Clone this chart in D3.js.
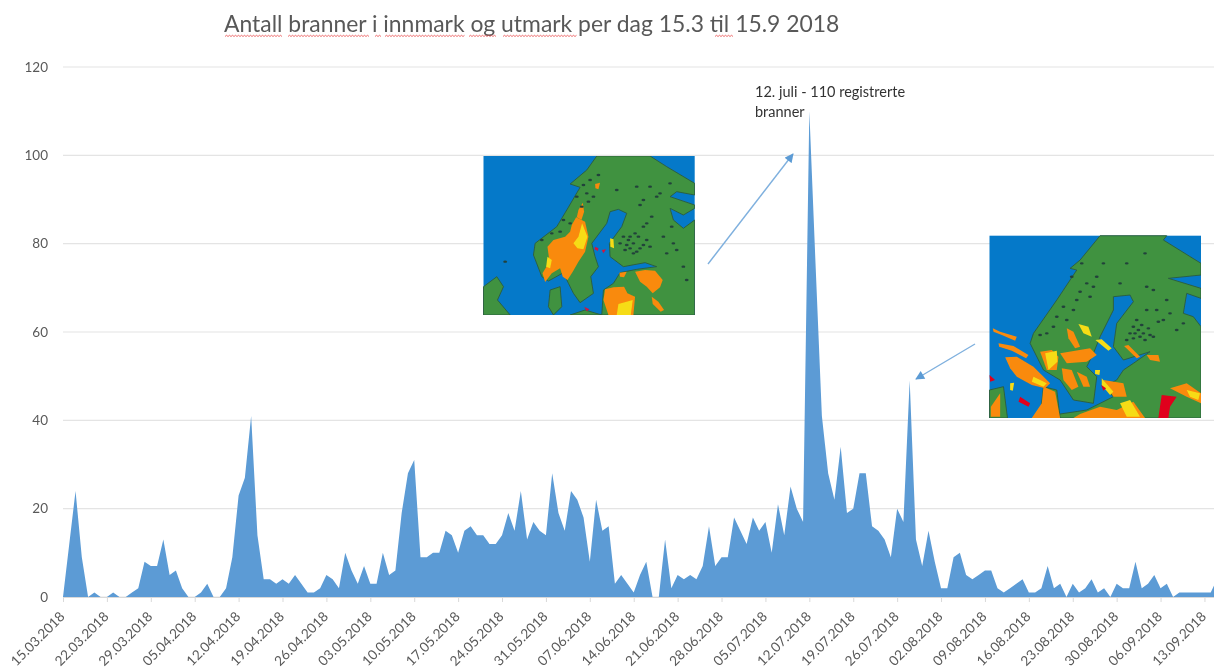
<!DOCTYPE html>
<html>
<head>
<meta charset="utf-8">
<title>Antall branner i innmark og utmark</title>
<script src="https://cdnjs.cloudflare.com/ajax/libs/d3/7.8.5/d3.min.js"></script>
<style>
  html, body { margin: 0; padding: 0; background: #fff; overflow: hidden; }
  svg { display: block; font-family: Lato, "Noto Sans", sans-serif; }
</style>
</head>
<body>
<svg id="chart" width="1214" height="668"></svg>
<script>
// Data
var startDate = '15.03.2018';

// Fires per day, one value for each day from 15.03.2018 on
var fires = [
  0, 12, 24, 9, 0, 1, 0, 0, 1, 0, 0, 1, 2, 8, 7, 7, 13, 5, 6, 2, 0, 0, 1, 3, 0,
  0, 2, 9, 23, 27, 41, 14, 4, 4, 3, 4, 3, 5, 3, 1, 1, 2, 5, 4, 2, 10, 6, 3, 7, 3,
  3, 10, 5, 6, 19, 28, 31, 9, 9, 10, 10, 15, 14, 10, 15, 16, 14, 14, 12, 12, 14, 19, 15, 24, 13,
  17, 15, 14, 28, 19, 15, 24, 22, 18, 8, 22, 15, 16, 3, 5, 3, 1, 5, 8, 0, 0, 13, 2, 5, 4,
  5, 4, 7, 16, 7, 9, 9, 18, 15, 12, 18, 15, 17, 10, 21, 14, 25, 20, 17, 110, 75, 41, 28, 22, 34,
  19, 20, 28, 28, 16, 15, 13, 9, 20, 17, 49, 13, 7, 15, 8, 2, 2, 9, 10, 5, 4, 5, 6, 6, 2,
  1, 2, 3, 4, 1, 1, 2, 7, 2, 3, 0, 3, 1, 2, 4, 1, 2, 0, 3, 2, 2, 8, 2, 3, 5,
  2, 3, 0, 1, 1, 1, 1, 1, 1, 4
];

var dateLabels = [
  '15.03.2018', '22.03.2018', '29.03.2018', '05.04.2018', '12.04.2018', '19.04.2018',
  '26.04.2018', '03.05.2018', '10.05.2018', '17.05.2018', '24.05.2018', '31.05.2018',
  '07.06.2018', '14.06.2018', '21.06.2018', '28.06.2018', '05.07.2018', '12.07.2018',
  '19.07.2018', '26.07.2018', '02.08.2018', '09.08.2018', '16.08.2018', '23.08.2018',
  '30.08.2018', '06.09.2018', '13.09.2018'
];

var yTicks = [0, 20, 40, 60, 80, 100, 120];

var titleText = 'Antall branner i innmark og utmark per dag 15.3 til 15.9 2018';
var noteLines = ['12. juli - 110 registrerte', 'branner'];

// Words the spell checker flagged in the title, [from, to] in px
var squiggles = [[225, 282], [288, 370], [375, 381], [385, 465], [469, 497], [503, 577], [715, 733]];

// Layout
var plotLeft = 63, plotRight = 1217, plotTop = 67, plotBottom = 597;
var parseDate = d3.utcParse('%d.%m.%Y');
var first = parseDate(startDate);

var x = d3.scaleUtc()
  .domain([first, d3.utcDay.offset(first, fires.length - 1)])
  .range([plotLeft, plotRight]);

var y = d3.scaleLinear()
  .domain([0, 120])
  .range([plotBottom, plotTop]);

var svg = d3.select('#chart');

// Slight softening, the reference is an upscaled screenshot
var defs = svg.append('defs');
defs.append('filter').attr('id', 'soft').append('feGaussianBlur').attr('stdDeviation', 0.45);
defs.append('filter').attr('id', 'softer').append('feGaussianBlur').attr('stdDeviation', 0.6);
defs.append('marker')
  .attr('id', 'head')
  .attr('viewBox', '0 0 10 10')
  .attr('refX', 9).attr('refY', 5)
  .attr('markerWidth', 10).attr('markerHeight', 9)
  .attr('markerUnits', 'userSpaceOnUse')
  .attr('orient', 'auto')
  .append('path')
  .attr('d', 'M0,0L10,5L0,10Z')
  .attr('fill', '#5b9bd5');

var root = svg.append('g').attr('filter', 'url(#soft)');

// Grid
root.append('g')
  .selectAll('line')
  .data(yTicks)
  .enter().append('line')
  .attr('x1', plotLeft).attr('x2', 1214)
  .attr('y1', function (d) { return y(d); })
  .attr('y2', function (d) { return y(d); })
  .attr('stroke', '#e4e4e4')
  .attr('stroke-width', 1.2);

// Area
var area = d3.area()
  .x(function (d, i) { return x(d3.utcDay.offset(first, i)); })
  .y0(y(0))
  .y1(function (d) { return y(d); });

root.append('path')
  .datum(fires)
  .attr('d', area)
  .attr('fill', '#5b9bd5');

// Axes
var yAxis = d3.axisLeft(y)
  .tickValues(yTicks)
  .tickSize(0)
  .tickPadding(15);

var yG = root.append('g')
  .attr('transform', 'translate(' + plotLeft + ',0)')
  .call(yAxis);
yG.select('.domain').remove();
yG.selectAll('text')
  .attr('fill', '#595959')
  .style('font-family', 'Lato')
  .style('font-size', '13.5px');

var xAxis = d3.axisBottom(x)
  .tickValues(dateLabels.map(parseDate))
  .tickFormat(d3.utcFormat('%d.%m.%Y'))
  .tickSize(5)
  .tickSizeOuter(0);

var xG = root.append('g')
  .attr('transform', 'translate(0,' + plotBottom + ')')
  .call(xAxis);
xG.select('.domain').attr('stroke', '#d9d9d9').attr('stroke-width', 1.2);
xG.selectAll('line').attr('stroke', '#d9d9d9');
xG.selectAll('text')
  .attr('fill', '#595959')
  .attr('text-anchor', 'end')
  .attr('transform', 'rotate(-45)')
  .attr('x', -13)
  .attr('y', 16)
  .attr('dy', 0)
  .style('font-family', 'Lato')
  .style('font-size', '13.6px');

// Title with the red spell check waves
root.append('text')
  .attr('x', 224).attr('y', 32)
  .attr('fill', '#595959')
  .style('font-size', '22.9px')
  .text(titleText);

root.append('g')
  .selectAll('path')
  .data(squiggles)
  .enter().append('path')
  .attr('d', function (s) {
    var d = 'M' + s[0] + ',36.5';
    for (var px = s[0] + 1.5, n = 0; px <= s[1]; px += 1.5, n++) {
      d += 'L' + px + ',' + (n % 2 ? 36.5 : 35.3);
    }
    return d;
  })
  .attr('fill', 'none')
  .attr('stroke', '#e8484a')
  .attr('stroke-width', 0.8);

// Note at the peak
root.append('text')
  .attr('fill', '#333')
  .style('font-size', '14.5px')
  .selectAll('tspan')
  .data(noteLines)
  .enter().append('tspan')
  .attr('x', 755)
  .attr('y', function (d, i) { return 97 + i * 20; })
  .text(function (d) { return d; });

// Arrows from the maps to the peaks
root.append('line')
  .attr('x1', 708).attr('y1', 264).attr('x2', 793).attr('y2', 154)
  .attr('stroke', '#7fb0de').attr('stroke-width', 1.4)
  .attr('marker-end', 'url(#head)');
root.append('line')
  .attr('x1', 975).attr('y1', 344).attr('x2', 916).attr('y2', 379)
  .attr('stroke', '#7fb0de').attr('stroke-width', 1.4)
  .attr('marker-end', 'url(#head)');

// Weather map insets. Shapes are sketched in the coordinates of the zoomed crops
function drawMap (box, shapes) {
  var sx = d3.scaleLinear().domain(box.from[0]).range(box.to[0]);
  var sy = d3.scaleLinear().domain(box.from[1]).range(box.to[1]);
  var clipId = box.id + '-clip';
  defs.append('clipPath').attr('id', clipId).append('rect')
    .attr('x', box.to[0][0]).attr('y', box.to[1][0])
    .attr('width', box.to[0][1] - box.to[0][0])
    .attr('height', box.to[1][1] - box.to[1][0]);

  var line = d3.line()
    .x(function (p) { return sx(p[0]); })
    .y(function (p) { return sy(p[1]); })
    .curve(d3.curveLinearClosed);

  var g = svg.append('g').attr('clip-path', 'url(#' + clipId + ')');
  g.append('rect')
    .attr('x', box.to[0][0]).attr('y', box.to[1][0])
    .attr('width', box.to[0][1] - box.to[0][0])
    .attr('height', box.to[1][1] - box.to[1][0])
    .attr('fill', '#0579c9');

  var inner = g.append('g').attr('filter', 'url(#softer)');
  shapes.forEach(function (s) {
    s.polys.forEach(function (poly) {
      inner.append('path').attr('d', line(poly)).attr('fill', s.fill)
        .attr('stroke', s.stroke || 'none').attr('stroke-width', 0.9);
    });
  });
  (box.specks || []).forEach(function (p) {
    inner.append('ellipse')
      .attr('cx', sx(p[0])).attr('cy', sy(p[1]))
      .attr('rx', 1.9).attr('ry', 1.2)
      .attr('fill', '#24423a');
  });
}

var map1Land = [
  [[380, 228], [350, 270], [300, 312], [330, 322], [290, 390], [260, 440], [195, 490], [190, 525], [215, 590], [235, 603], [280, 578], [295, 610], [310, 640], [330, 668], [370, 640], [362, 590], [385, 560], [375, 530], [365, 490], [410, 430], [420, 395], [445, 388], [470, 400], [455, 440], [418, 490], [420, 530], [460, 560], [525, 548], [560, 560], [500, 568], [450, 578], [430, 610], [400, 630], [395, 705], [674, 705], [674, 420], [640, 445], [610, 420], [600, 385], [640, 405], [674, 385], [674, 375], [600, 350], [620, 335], [674, 345], [674, 310], [590, 260], [540, 228]],
  [[40, 620], [80, 590], [100, 620], [82, 660], [120, 705], [40, 705]],
  [[240, 630], [270, 620], [275, 680], [250, 705], [235, 680]],
  [[300, 705], [345, 690], [395, 705]]
];
var map1Orange = [
  [[338, 368], [342, 395], [334, 420], [320, 412], [325, 390]],
  [[318, 412], [345, 425], [355, 470], [345, 515], [325, 545], [308, 575], [292, 600], [278, 590], [270, 565], [245, 580], [225, 606], [217, 580], [238, 545], [232, 500], [250, 480], [285, 470], [300, 455], [305, 435]],
  [[405, 628], [430, 622], [462, 620], [472, 640], [495, 650], [490, 705], [415, 705], [400, 660]],
  [[495, 575], [525, 570], [555, 572], [578, 600], [570, 622], [548, 640], [530, 620], [510, 605]],
  [[545, 650], [565, 665], [582, 690], [572, 695], [548, 672]],
  [[375, 312], [390, 308], [385, 328], [376, 325]],
  [[448, 578], [470, 575], [462, 592], [450, 590]]
];
var map1Yellow = [
  [[336, 430], [352, 470], [340, 508], [322, 505], [310, 490], [325, 470]],
  [[445, 672], [488, 660], [482, 705], [440, 705]],
  [[420, 475], [430, 478], [432, 505], [421, 500]],
  [[232, 530], [245, 540], [240, 565], [228, 560]]
];
var map1Red = [
  [[375, 500], [385, 505], [383, 513], [373, 508]],
  [[395, 510], [408, 508], [400, 520]],
  [[342, 680], [358, 688], [350, 694]]
];
var map1Specks = [
  [460, 470], [475, 480], [490, 490], [505, 470], [520, 495], [480, 505], [500, 515], [530, 480], [465, 510], [520, 440],
  [545, 410], [510, 375], [560, 350], [605, 440], [610, 490], [590, 520], [350, 340], [370, 350], [335, 380], [500, 320],
  [540, 320], [440, 330], [600, 310], [640, 560], [650, 600], [300, 430], [270, 455], [105, 545], [450, 490], [495, 460],
  [510, 505], [530, 430], [360, 300], [340, 315], [385, 285], [320, 350], [355, 365], [280, 420], [245, 460], [215, 480],
  [570, 340], [520, 360], [480, 470], [470, 495], [490, 520], [540, 500], [580, 470], [620, 510]
];

var map2Land = [
  [[600, 47], [540, 120], [510, 145], [530, 150], [470, 240], [400, 340], [390, 370], [430, 450], [480, 480], [520, 540], [580, 550], [590, 470], [560, 440], [580, 400], [600, 350], [640, 270], [640, 230], [690, 225], [700, 245], [650, 310], [640, 380], [670, 420], [750, 395], [700, 430], [670, 450], [650, 480], [610, 500], [640, 530], [560, 570], [400, 594], [903, 594], [903, 320], [880, 290], [850, 280], [860, 220], [903, 235], [903, 205], [805, 175], [903, 165], [903, 130], [790, 60], [800, 47]],
  [[268, 510], [310, 500], [322, 594], [268, 594]],
  [[430, 500], [470, 510], [480, 594], [420, 594]]
];
var map2Orange = [
  [[278, 325], [300, 335], [350, 350], [345, 362], [305, 345], [280, 335]],
  [[295, 370], [340, 378], [385, 405], [378, 415], [335, 392], [297, 380]],
  [[315, 412], [350, 410], [400, 440], [450, 490], [435, 505], [395, 495], [350, 470], [330, 445]],
  [[430, 500], [465, 515], [480, 594], [395, 594], [425, 550]],
  [[420, 395], [455, 390], [475, 410], [470, 450], [440, 450]],
  [[500, 325], [520, 335], [540, 380], [525, 385], [505, 355]],
  [[480, 400], [570, 385], [590, 405], [560, 425], [500, 430]],
  [[485, 445], [515, 450], [535, 500], [515, 510], [490, 480]],
  [[530, 455], [560, 470], [570, 500], [550, 500]],
  [[610, 480], [670, 490], [680, 530], [640, 530]],
  [[810, 505], [860, 490], [903, 520], [903, 550], [860, 530]],
  [[540, 582], [600, 560], [650, 570], [700, 545], [735, 594], [520, 594]],
  [[672, 378], [685, 375], [720, 410], [710, 415]],
  [[740, 405], [775, 405], [780, 425], [750, 420]],
  [[272, 560], [300, 520], [300, 590], [272, 590]]
];
var map2Yellow = [
  [[586, 360], [605, 358], [635, 385], [625, 392]],
  [[535, 312], [565, 320], [575, 350], [550, 340]],
  [[435, 400], [470, 392], [472, 425], [445, 450]],
  [[605, 475], [640, 515], [630, 525], [605, 495]],
  [[660, 550], [690, 540], [720, 590], [680, 590]],
  [[860, 510], [900, 520], [895, 540], [870, 530]],
  [[330, 490], [342, 488], [338, 512], [330, 510]],
  [[585, 450], [600, 450], [598, 465], [585, 462]],
  [[400, 470], [440, 490], [430, 500], [395, 485]]
];
var map2Red = [
  [[785, 525], [830, 530], [810, 560], [805, 594], [775, 594]],
  [[360, 530], [390, 550], [385, 560], [355, 545]],
  [[603, 495], [618, 505], [610, 512]],
  [[268, 465], [285, 480], [270, 485]]
];
var map2Specks = [
  [700, 320], [715, 330], [730, 340], [745, 325], [720, 350], [700, 355], [735, 360], [690, 340], [750, 345], [710, 300],
  [770, 270], [800, 240], [740, 200], [790, 300], [830, 330], [850, 310], [560, 190], [590, 170], [530, 240], [570, 230],
  [500, 300], [470, 290], [440, 340], [545, 130], [610, 130], [680, 130], [735, 100], [660, 190], [725, 315], [705, 340],
  [680, 360], [760, 350], [540, 215], [580, 200], [515, 170], [520, 270], [490, 260], [460, 320], [420, 345], [775, 305],
  [740, 270], [810, 280], [760, 210]
];

drawMap(
  {id: 'map1', from: [[40, 674], [228, 705]], to: [[483.5, 694.7], [156, 315]], specks: map1Specks},
  [{polys: map1Land, fill: '#3f9241', stroke: '#2c5c3c'}, {polys: map1Orange, fill: '#f98a0a'}, {polys: map1Yellow, fill: '#f6dc16'}, {polys: map1Red, fill: '#d01440'}]
);

drawMap(
  {id: 'map2', from: [[268, 903], [47, 594]], to: [[989.5, 1201], [235.7, 418]], specks: map2Specks},
  [{polys: map2Land, fill: '#3f9241', stroke: '#2c5c3c'}, {polys: map2Orange, fill: '#f98a0a'}, {polys: map2Yellow, fill: '#f6dc16'}, {polys: map2Red, fill: '#e0001b'}]
);
</script>
</body>
</html>
